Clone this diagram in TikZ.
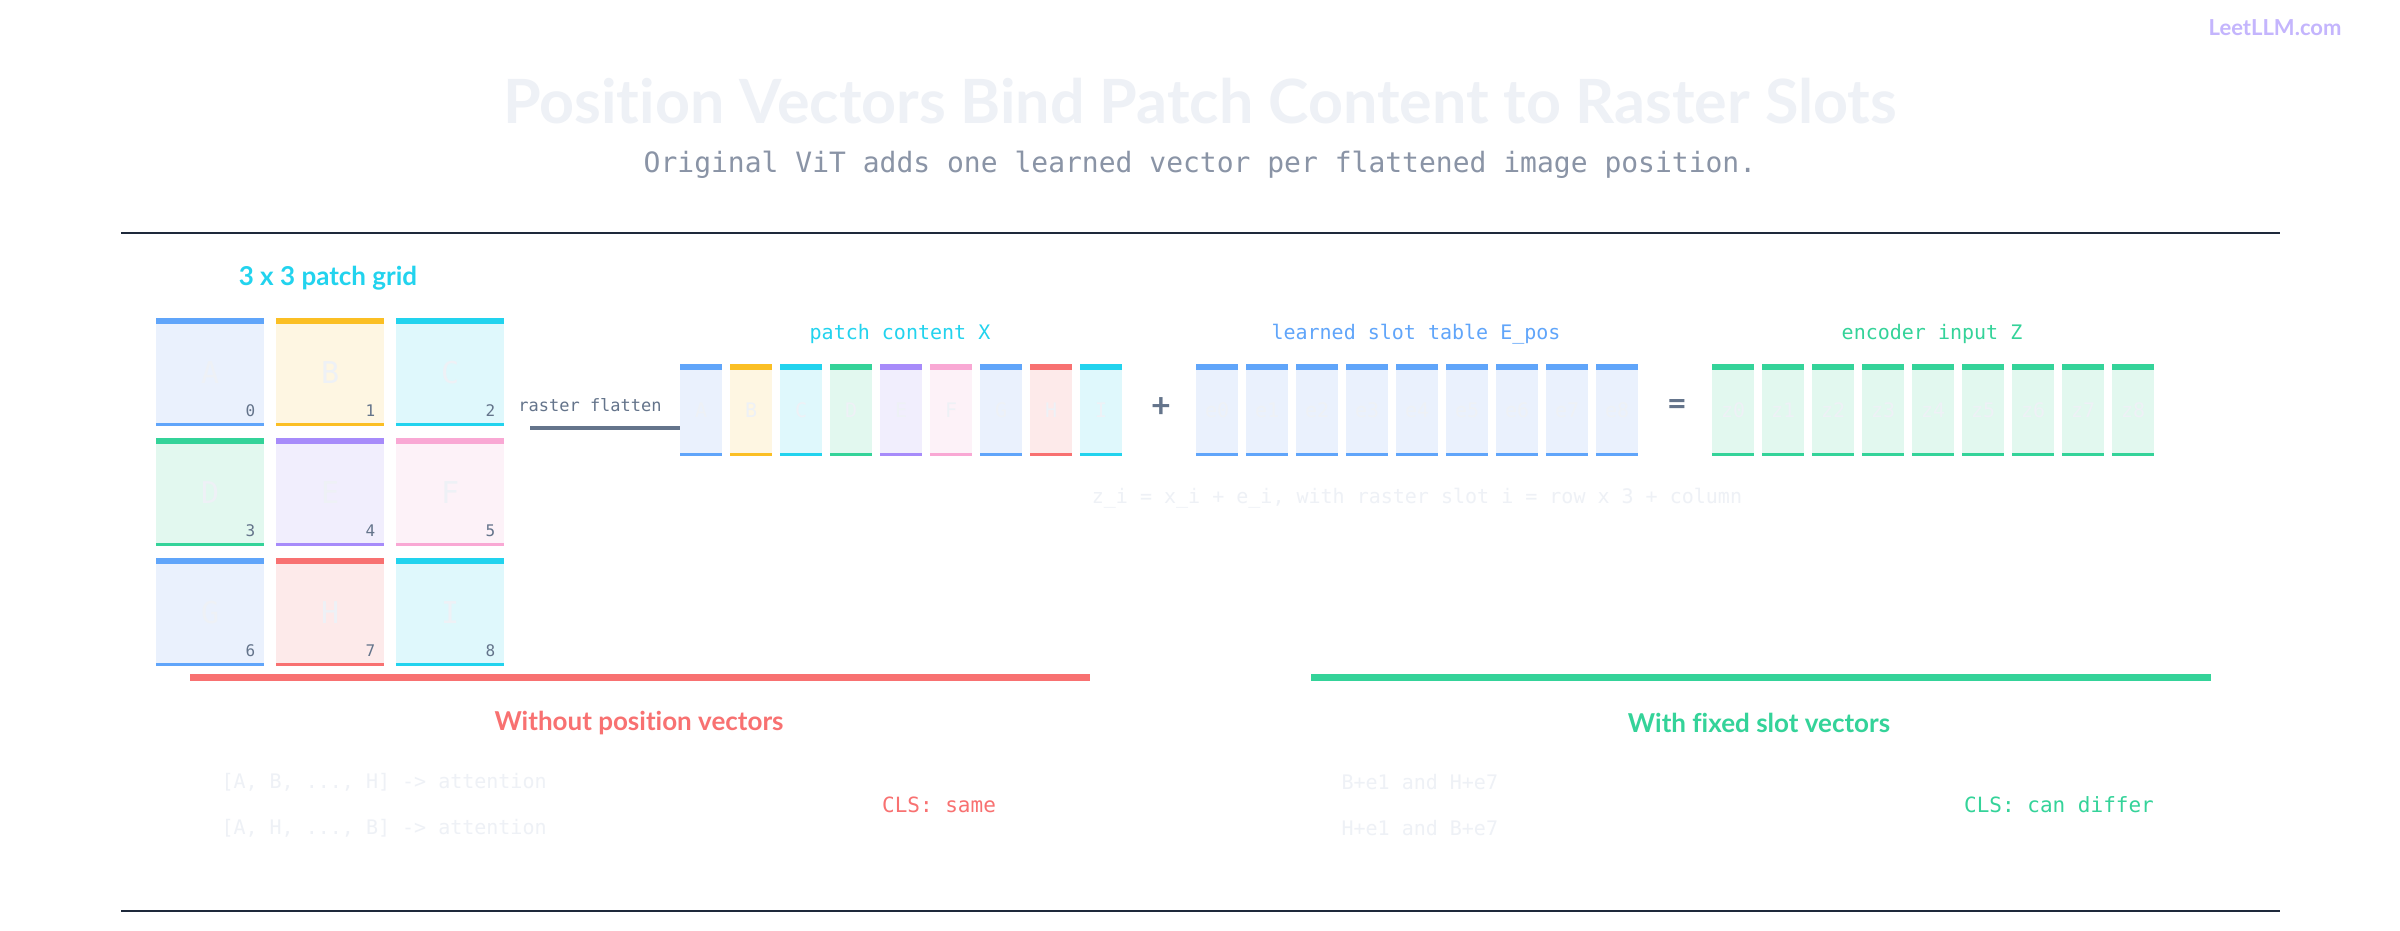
\documentclass[tikz,border=0pt]{standalone}
\usepackage{fontspec}
\setmainfont{Lato}[Ligatures=CommonOff]
\newfontfamily\monof{DejaVu Sans Mono}
\definecolor{cblue}{HTML}{60A5FA}\definecolor{fblue}{HTML}{EAF1FD}
\definecolor{camber}{HTML}{FBBF24}\definecolor{famber}{HTML}{FEF6E2}
\definecolor{ccyan}{HTML}{22D3EE}\definecolor{fcyan}{HTML}{DFF8FC}
\definecolor{cgreen}{HTML}{34D399}\definecolor{fgreen}{HTML}{E2F8EF}
\definecolor{cpurple}{HTML}{A78BFA}\definecolor{fpurple}{HTML}{F1EEFD}
\definecolor{cpink}{HTML}{F9A8D4}\definecolor{fpink}{HTML}{FDF2F8}
\definecolor{cred}{HTML}{F87171}\definecolor{fred}{HTML}{FDEAEA}
\definecolor{slate}{HTML}{64748B}\definecolor{faint}{HTML}{EEF1F6}
\definecolor{rule}{HTML}{1E293B}\definecolor{sub}{HTML}{8A94A6}
\definecolor{logo}{HTML}{C4B5FD}
\tikzset{
  cellbox/.style={inner sep=0pt, anchor=north west, minimum width=108pt, minimum height=108pt, font=\monof\fontsize{30}{30}\selectfont, text=faint},
  colbox/.style={inner sep=0pt, anchor=north west, minimum width=42pt, minimum height=92pt, font=\monof\fontsize{20}{20}\selectfont, text=faint},
  mono/.style={font=\monof\fontsize{#1}{#1}\selectfont},
  bold/.style={font=\fontsize{#1}{#1}\selectfont\bfseries},
}
\newcommand{\bars}[2]{\fill[#2] (#1.north west) rectangle ([yshift=-6pt]#1.north east);
  \fill[#2] ([yshift=3pt]#1.south west) rectangle (#1.south east);}
\begin{document}
\begin{tikzpicture}[x=1pt,y=-1pt]
\useasboundingbox[fill=white] (0,0) rectangle (2400,930);
\node[bold=22, text=logo] (logo) at (2275,28) {LeetLLM.com};
\node[bold=61, text=faint] (title) at (1200,101) {Position Vectors Bind Patch Content to Raster Slots};
\node[mono=28, text=sub] (subt) at (1200,165) {Original ViT adds one learned vector per flattened image position.};
\draw[rule, line width=1.5pt] (121,233) coordinate (r1) -- (2280,233) coordinate (r2);
\draw[rule, line width=1.5pt] (121,911) coordinate (r3) -- (2280,911) coordinate (r4);
% grid
\node[bold=26, text=ccyan] (gtitle) at (328,278) {3 x 3 patch grid};
\foreach \L/\i/\j/\c [count=\n from 0] in {A/0/0/blue,B/0/1/amber,C/0/2/cyan,D/1/0/green,E/1/1/purple,F/1/2/pink,G/2/0/blue,H/2/1/red,I/2/2/cyan}{
  \node[cellbox, fill=f\c] (g\n) at ({156+120*\j},{318+120*\i}) {\L};
  \bars{g\n}{c\c}
  \node[mono=16, text=slate] (gn\n) at ([xshift=-14pt,yshift=16pt]g\n.south east) {\n};
}
% flatten
\node[mono=17, text=slate] (rf) at (590,405) {raster flatten};
\coordinate (rs) at (530,428);
% X columns
\node[mono=20, text=ccyan] (lx) at (900,334) {patch content X};
\foreach \L/\c [count=\n from 0] in {A/blue,B/amber,C/cyan,D/green,E/purple,F/pink,G/blue,H/red,I/cyan}{
  \node[colbox, fill=f\c] (x\n) at ({680+50*(\n)},364) {\L};
  \bars{x\n}{c\c}
}
\draw[slate, line width=4pt] (rs) -- (rs -| x0.west);
\node[bold=34, text=slate] (plus) at (1161,408) {+};
\node[mono=20, text=cblue] (le) at (1416,334) {learned slot table E\_pos};
\foreach \n in {0,...,8}{
  \node[colbox, fill=fblue] (e\n) at ({1196+50*\n},364) {e\n};
  \bars{e\n}{cblue}
}
\node[bold=34, text=slate] (eq) at (1677,408) {=};
\node[mono=20, text=cgreen] (lz) at (1932,334) {encoder input Z};
\foreach \n in {0,...,8}{
  \node[colbox, fill=fgreen] (z\n) at ({1712+50*\n},364) {z\n};
  \bars{z\n}{cgreen}
}
\node[mono=20, text=faint] (form) at (1417,498) {z\_i = x\_i + e\_i, with raster slot i = row x 3 + column};
% bottom
\fill[cred] (190,674) rectangle (1090,681);
\fill[cgreen] (1311,674) rectangle (2211,681);
\node[bold=26, text=cred] (wo) at (639,723) {Without position vectors};
\node[bold=26, text=cgreen] (wi) at (1759,723) {With fixed slot vectors};
\node[mono=20, text=faint, anchor=west] (a1) at (218,782) {[A, B, ..., H] -> attention};
\node[mono=20, text=faint, anchor=west] (a2) at (218,828) {[A, H, ..., B] -> attention};
\node[mono=21, text=cred] (cs) at (939,805) {CLS: same};
\node[mono=20, text=faint, anchor=west] (b1) at (1338,782) {B+e1 and H+e7};
\node[mono=20, text=faint, anchor=west] (b2) at (1338,828) {H+e1 and B+e7};
\node[mono=21, text=cgreen] (cd) at (2059,805) {CLS: can differ};
\end{tikzpicture}
\end{document}
